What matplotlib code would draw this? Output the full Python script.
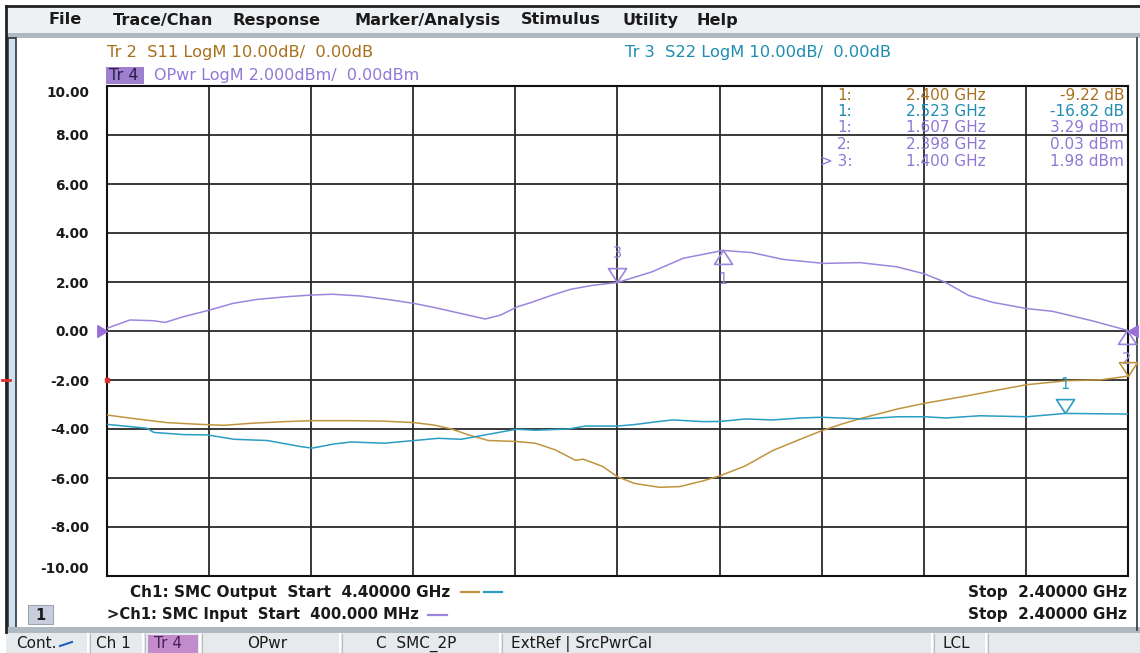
import matplotlib.pyplot as plt
from matplotlib.path import Path
from matplotlib.patches import Rectangle

plt.rcParams['font.family'] = ['DejaVu Sans']

W, H = 1140, 653

# Tr 4  OPwr, Ch1 input sweep 400 MHz -> 2.4 GHz
opwr_freq = [0.400, 0.445, 0.490, 0.514, 0.549, 0.602, 0.647, 0.694, 0.753, 0.802,
             0.843, 0.896, 0.949, 1.000, 1.039, 1.092, 1.141, 1.171, 1.204, 1.229,
             1.270, 1.308, 1.350, 1.400, 1.467, 1.529, 1.607, 1.663, 1.725, 1.804,
             1.875, 1.947, 2.000, 2.041, 2.088, 2.135, 2.200, 2.253, 2.331, 2.398]
opwr_dbm = [0.11, 0.45, 0.42, 0.35, 0.58, 0.86, 1.13, 1.29, 1.40, 1.47,
            1.50, 1.43, 1.29, 1.13, 0.97, 0.72, 0.49, 0.65, 0.99, 1.15,
            1.45, 1.70, 1.86, 1.98, 2.41, 2.97, 3.29, 3.20, 2.92, 2.76,
            2.79, 2.62, 2.34, 2.00, 1.45, 1.17, 0.92, 0.80, 0.41, 0.03]

# Tr 2 S11 / Tr 3 S22, Ch1 output sweep 4.4 GHz -> 2.4 GHz
s11_freq = [4.400, 4.349, 4.282, 4.218, 4.171, 4.120, 4.053, 3.998, 3.922, 3.857,
            3.798, 3.759, 3.725, 3.692, 3.653, 3.598, 3.561, 3.522, 3.482, 3.467,
            3.429, 3.400, 3.367, 3.318, 3.278, 3.231, 3.198, 3.149, 3.096, 3.041,
            3.000, 2.961, 2.920, 2.851, 2.798, 2.724, 2.655, 2.598, 2.520, 2.453, 2.400]
s11_db = [-17.15, -17.85, -18.7, -19.05, -19.25, -18.85, -18.5, -18.3, -18.3, -18.4,
          -18.7, -19.2, -20.0, -21.2, -22.35, -22.55, -22.9, -24.25, -26.4, -26.15,
          -27.65, -29.75, -31.1, -31.9, -31.75, -30.55, -29.5, -27.5, -24.4, -22.05,
          -20.35, -19.0, -17.75, -15.9, -14.75, -13.4, -12.05, -10.95, -10.15, -9.95, -9.22]

s22_freq = [4.400, 4.322, 4.308, 4.249, 4.204, 4.151, 4.086, 4.020, 3.998, 3.955,
            3.922, 3.857, 3.798, 3.751, 3.706, 3.667, 3.598, 3.561, 3.496, 3.463,
            3.400, 3.367, 3.318, 3.292, 3.231, 3.198, 3.149, 3.096, 3.041, 3.000,
            2.920, 2.851, 2.798, 2.757, 2.690, 2.598, 2.523, 2.400]
s22_db = [-19.05, -19.85, -20.7, -21.15, -21.2, -22.1, -22.35, -23.6, -23.9, -23.05,
          -22.65, -22.9, -22.35, -21.9, -22.1, -21.35, -20.05, -20.25, -20.0, -19.4,
          -19.4, -19.1, -18.45, -18.15, -18.5, -18.45, -17.95, -18.15, -17.75, -17.6,
          -17.95, -17.5, -17.5, -17.75, -17.3, -17.5, -16.82, -16.95]

# markers
opwr_mk_freq = [1.607, 2.398, 1.400]
opwr_mk_val = [3.29, 0.03, 1.98]
opwr_mk_name = ['1', '2', '3']
s11_mk = (2.400, -9.22)
s22_mk = (2.523, -16.82)

y_ticks = [10, 8, 6, 4, 2, 0, -2, -4, -6, -8, -10]

c_s11 = '#c0943e'
c_s11_txt = '#a8701e'
c_s22 = '#2b9cc4'
c_s22_txt = '#1e8db0'
c_opwr = '#9c85dc'
c_opwr_txt = '#8f78d6'

tri_above = Path([(0, 0), (-0.65, 1), (0.65, 1), (0, 0)],
                 [Path.MOVETO, Path.LINETO, Path.LINETO, Path.CLOSEPOLY])
tri_below = Path([(0, 0), (-0.65, -1), (0.65, -1), (0, 0)],
                 [Path.MOVETO, Path.LINETO, Path.LINETO, Path.CLOSEPOLY])
ref_right = Path([(0, 0), (-1, 0.6), (-1, -0.6), (0, 0)],
                 [Path.MOVETO, Path.LINETO, Path.LINETO, Path.CLOSEPOLY])
ref_left = Path([(0, 0), (1, 0.6), (1, -0.6), (0, 0)],
                [Path.MOVETO, Path.LINETO, Path.LINETO, Path.CLOSEPOLY])

fig = plt.figure(figsize=(W / 100, H / 100), dpi=100)
fig.patch.set_facecolor('white')

# screen furniture in pixel coordinates
bg = fig.add_axes([0, 0, 1, 1])
bg.set_xlim(0, W)
bg.set_ylim(H, 0)
bg.axis('off')

bg.add_patch(Rectangle((6, 6), W - 6, 28, fc='#eef1f4', ec='none'))
bg.plot([6, W], [6, 6], color='#222222', lw=2)
bg.plot([6, 6], [6, 632], color='#222222', lw=2)
bg.add_patch(Rectangle((6, 33), W - 6, 5, fc='#aeb9c2', ec='none'))
bg.add_patch(Rectangle((8, 38), 8, 592, fc='#cfe0ee', ec='#30363c', lw=1.2))
bg.plot([1137, 1137], [38, 630], color='#30363c', lw=1.2)
bg.add_patch(Rectangle((6, 627), W - 6, 6, fc='#aeb9c2', ec='none'))
bg.add_patch(Rectangle((6, 633), W - 6, 20, fc='#e6eaed', ec='none'))

menu = [(48, 'File'), (113, 'Trace/Chan'), (232, 'Response'), (354, 'Marker/Analysis'),
        (521, 'Stimulus'), (622, 'Utility'), (696, 'Help')]
for x, t in menu:
    bg.text(x, 20, t, fontsize=11.6, fontweight='bold', color='#1a1a1a', va='center')

bg.text(107, 52, 'Tr 2  S11 LogM 10.00dB/  0.00dB', fontsize=11.7, color=c_s11_txt, va='center')
bg.text(625, 52, 'Tr 3  S22 LogM 10.00dB/  0.00dB', fontsize=11.7, color=c_s22_txt, va='center')
bg.add_patch(Rectangle((106, 67), 38, 17, fc='#9f7fd0', ec='none'))
bg.text(109, 75.5, 'Tr 4', fontsize=11.5, color='#2a1d45', va='center')
bg.text(154, 75.5, 'OPwr LogM 2.000dBm/  0.00dBm', fontsize=11.5, color=c_opwr_txt, va='center')

bg.plot([2, 10], [380, 380], color='#e03030', lw=2)

# channel footer
bg.text(130, 592, 'Ch1: SMC Output  Start  4.40000 GHz', fontsize=11, fontweight='bold',
        color='#1a1a1a', va='center')
bg.plot([461, 479], [592, 592], color=c_s11, lw=1.6)
bg.plot([484, 502], [592, 592], color=c_s22, lw=1.6)
bg.text(107, 615, '>Ch1: SMC Input  Start  400.000 MHz', fontsize=10.6, fontweight='bold',
        color='#1a1a1a', va='center')
bg.plot([428, 447], [615, 615], color=c_opwr, lw=1.6)
bg.text(1127, 592, 'Stop  2.40000 GHz', fontsize=11, fontweight='bold', color='#1a1a1a',
        va='center', ha='right')
bg.text(1127, 615, 'Stop  2.40000 GHz', fontsize=11, fontweight='bold', color='#1a1a1a',
        va='center', ha='right')
bg.add_patch(Rectangle((28, 605), 25, 19, fc='#c7cfdc', ec='#9aa4b0', lw=0.8))
bg.text(40.5, 615, '1', fontsize=10.5, fontweight='bold', ha='center', va='center', color='#1a1a1a')

# status bar
for x in [88, 143, 200, 340, 500, 932, 986]:
    bg.plot([x, x], [634, 653], color='#ffffff', lw=1.5)
    bg.plot([x + 1.5, x + 1.5], [634, 653], color='#b4bec6', lw=0.8)
bg.text(16, 644, 'Cont.', fontsize=11, color='#1a1a1a', va='center')
bg.plot([60, 72], [646, 642], color='#2060c0', lw=1.5)
bg.text(96, 644, 'Ch 1', fontsize=11, color='#1a1a1a', va='center')
bg.add_patch(Rectangle((148, 635), 50, 18, fc='#c28ccc', ec='none'))
bg.text(154, 644, 'Tr 4', fontsize=11, color='#4a1f5a', va='center')
bg.text(247, 644, 'OPwr', fontsize=11, color='#1a1a1a', va='center')
bg.text(376, 644, 'C  SMC_2P', fontsize=11, color='#1a1a1a', va='center')
bg.text(511, 644, 'ExtRef | SrcPwrCal', fontsize=11, color='#1a1a1a', va='center')
bg.text(942, 644, 'LCL', fontsize=11, color='#1a1a1a', va='center')

# trace axes
rect = [107 / W, (H - 576) / H, 1021 / W, 490 / H]
ax = fig.add_axes(rect)
ax.set_xlim(0.4, 2.4)
ax.set_ylim(-10, 10)
ax.set_xticks([0.4 + 0.2 * k for k in range(11)])
ax.set_xticklabels([])
ax.set_yticks(y_ticks)
labels = ax.set_yticklabels([f'{v:.2f}' for v in y_ticks], fontsize=9.8, fontweight='bold',
                            color='#1a1a1a')
labels[0].set_va('top')
labels[-1].set_va('bottom')
ax.tick_params(length=0, pad=13)
ax.grid(True, color='#2a2a2a', lw=1.3)
for s in ax.spines.values():
    s.set_color('#111111')
    s.set_linewidth(1.5)

ax.plot(opwr_freq, opwr_dbm, color=c_opwr, lw=1.1, zorder=3)
for f, v, n in zip(opwr_mk_freq, opwr_mk_val, opwr_mk_name):
    shape = tri_above if n == '3' else tri_below
    ax.plot([f], [v], marker=shape, ms=20, mfc='none', mec=c_opwr, mew=1.2,
            clip_on=False, zorder=4)
    off = 21 if n == '3' else -21
    ax.annotate(n, (f, v), xytext=(0, off), textcoords='offset points', ha='center',
                va='center', fontsize=10.5, color=c_opwr, annotation_clip=False)
ax.plot([0.4], [0], marker=ref_right, ms=14, color='#9b6fd8', clip_on=False, zorder=5)
ax.plot([2.4], [0], marker=ref_left, ms=14, color='#9b6fd8', clip_on=False, zorder=5)
ax.plot([0.4], [-2], marker='s', ms=3, color='#e03030', clip_on=False, zorder=5)

ax_s = fig.add_axes(rect, frameon=False)
ax_s.set_xlim(4.4, 2.4)
ax_s.set_ylim(-50, 50)
ax_s.set_xticks([])
ax_s.set_yticks([])
ax_s.plot(s11_freq, s11_db, color=c_s11, lw=1.1)
ax_s.plot(s22_freq, s22_db, color=c_s22, lw=1.1)
ax_s.plot([s11_mk[0]], [s11_mk[1]], marker=tri_above, ms=20, mfc='none', mec=c_s11, mew=1.2,
          clip_on=False)
ax_s.plot([s22_mk[0]], [s22_mk[1]], marker=tri_above, ms=20, mfc='none', mec=c_s22, mew=1.2,
          clip_on=False)
ax_s.annotate('1', s22_mk, xytext=(0, 21), textcoords='offset points', ha='center',
              va='center', fontsize=10.5, color=c_s22)

# marker readout table, drawn over the grid
top = fig.add_axes([0, 0, 1, 1], frameon=False)
top.set_xlim(0, W)
top.set_ylim(H, 0)
top.axis('off')
rows = [('1:', s11_mk[0], f'{s11_mk[1]:.2f} dB', c_s11_txt),
        ('1:', s22_mk[0], f'{s22_mk[1]:.2f} dB', c_s22_txt)]
for i in range(3):
    name = ('> ' if opwr_mk_name[i] == '3' else '') + opwr_mk_name[i] + ':'
    rows.append((name, opwr_mk_freq[i], f'{opwr_mk_val[i]:.2f} dBm', c_opwr_txt))
for k, (name, f, val, col) in enumerate(rows):
    y = 95 + 16.5 * k
    top.text(852, y, name, fontsize=11, color=col, ha='right', va='center')
    top.text(986, y, f'{f:.3f} GHz', fontsize=11, color=col, ha='right', va='center')
    top.text(1124, y, val, fontsize=11, color=col, ha='right', va='center')

fig.savefig('out.png', dpi=100)
